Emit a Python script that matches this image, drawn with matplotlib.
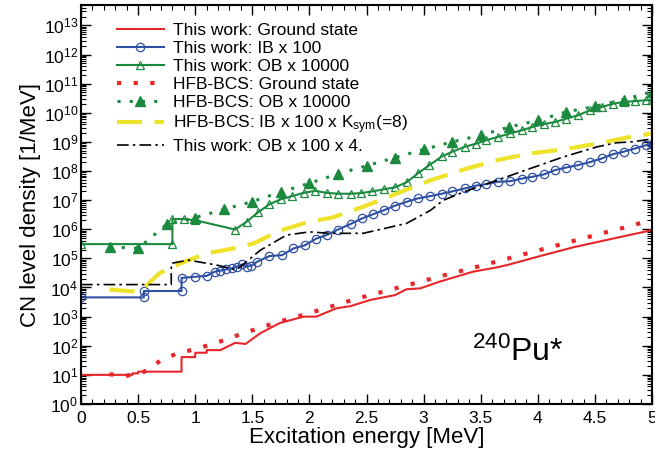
import numpy as np
import matplotlib
matplotlib.use("Agg")
import matplotlib.pyplot as plt
from matplotlib.ticker import LogLocator, MultipleLocator, NullFormatter

plt.rcParams["font.family"] = ["Liberation Sans", "DejaVu Sans"]
plt.rcParams["mathtext.fontset"] = "custom"
plt.rcParams["mathtext.rm"] = "Liberation Sans"
plt.rcParams["mathtext.it"] = "Liberation Sans:italic"
plt.rcParams["mathtext.bf"] = "Liberation Sans:bold"

# ---- data (log10 of level density) ----
# This work: ground state
gs_x = [0.0, 0.45, 0.45, 0.5, 0.5, 0.88, 0.88, 1.0, 1.0, 1.1, 1.1, 1.22, 1.35, 1.44,
        1.57, 1.74, 1.95, 2.06, 2.24, 2.36, 2.53, 2.75, 2.85, 2.97, 3.14, 3.43,
        3.64, 3.73, 4.02, 4.31, 4.6, 5.0]
gs_log = [1.0, 1.0, 1.05, 1.05, 1.11, 1.11, 1.61, 1.61, 1.76, 1.76, 1.85, 1.85, 2.1, 2.06,
          2.43, 2.78, 3.0, 3.0, 3.29, 3.36, 3.57, 3.74, 3.94, 3.97, 4.2, 4.54,
          4.69, 4.77, 5.08, 5.38, 5.63, 5.97]

# This work: IB x 100
ib_x = [0.0, 0.55, 0.55, 0.88, 0.88, 1.0, 1.1, 1.17, 1.22, 1.27, 1.32, 1.37, 1.41,
        1.45, 1.49, 1.54, 1.65, 1.76, 1.86, 1.96, 2.06, 2.15, 2.25, 2.36, 2.46,
        2.56, 2.65, 2.75, 2.85, 2.95, 3.06, 3.16, 3.25, 3.36, 3.46, 3.55, 3.65,
        3.76, 3.86, 3.95, 4.05, 4.15, 4.25, 4.35, 4.46, 4.56, 4.66, 4.75, 4.85,
        4.95, 5.0]
ib_log = [3.66, 3.66, 3.88, 3.88, 4.33, 4.37, 4.4, 4.54, 4.58, 4.62, 4.66, 4.72, 4.79,
          4.72, 4.74, 4.88, 5.08, 5.11, 5.34, 5.45, 5.68, 5.8, 5.99, 6.18, 6.37,
          6.52, 6.65, 6.81, 6.94, 7.06, 7.14, 7.22, 7.3, 7.4, 7.5, 7.55, 7.63,
          7.65, 7.74, 7.8, 7.88, 8.03, 8.12, 8.2, 8.31, 8.43, 8.58, 8.66, 8.77,
          8.89, 8.93]

# This work: OB x 10000
ob_x = [0.0, 0.8, 0.8, 0.9, 1.0, 1.35, 1.45, 1.55, 1.65, 1.75, 1.85, 1.95, 2.05,
        2.15, 2.25, 2.36, 2.45, 2.55, 2.65, 2.75, 2.85, 2.95, 3.05, 3.16, 3.25,
        3.36, 3.46, 3.55, 3.65, 3.76, 3.86, 3.95, 4.05, 4.15, 4.25, 4.35, 4.46,
        4.56, 4.66, 4.75, 4.85, 4.95, 5.0]
ob_log = [5.49, 5.49, 6.35, 6.35, 6.31, 5.99, 6.26, 6.58, 6.86, 7.03, 7.14, 7.25, 7.32,
          7.25, 7.22, 7.22, 7.24, 7.3, 7.37, 7.44, 7.61, 7.92, 8.2, 8.5, 8.66,
          8.83, 8.94, 9.06, 9.17, 9.29, 9.4, 9.51, 9.61, 9.68, 9.8, 9.91, 10.09,
          10.2, 10.31, 10.37, 10.4, 10.43, 10.44]

# HFB-BCS: ground state
hfb_gs_x = [0.25, 0.4, 0.55, 0.7, 0.85, 1.0, 1.2, 1.4, 1.6, 1.8, 2.0, 2.2, 2.4, 2.6,
            2.8, 3.0, 3.2, 3.4, 3.6, 3.8, 4.0, 4.2, 4.4, 4.6, 4.8, 5.0]
hfb_gs_log = [1.02, 0.97, 1.1, 1.5, 1.75, 1.88, 2.12, 2.4, 2.66, 2.9, 3.12, 3.36, 3.6,
              3.81, 4.02, 4.23, 4.44, 4.64, 4.85, 5.06, 5.27, 5.48, 5.69, 5.9, 6.1, 6.33]

# HFB-BCS: OB x 10000
hfb_ob_x = [0.25, 0.5, 0.75, 1.0, 1.25, 1.5, 1.75, 2.0, 2.25, 2.5, 2.75, 3.0, 3.25,
            3.5, 3.75, 4.0, 4.25, 4.5, 4.75, 5.0]
hfb_ob_log = [5.4, 5.34, 6.17, 6.4, 6.68, 6.95, 7.28, 7.58, 7.9, 8.18, 8.46, 8.74, 9.0,
              9.23, 9.51, 9.74, 10.03, 10.22, 10.45, 10.72]

# HFB-BCS: IB x 100 x Ksym(=8)
hfb_ib_x = [0.25, 0.44, 0.52, 0.69, 0.87, 1.1, 1.33, 1.51, 1.74, 2.0, 2.2, 2.47, 2.76,
            3.06, 3.35, 3.64, 3.93, 4.22, 4.52, 4.81, 5.0]
hfb_ib_log = [3.93, 3.87, 3.88, 4.5, 4.83, 5.17, 5.34, 5.51, 5.95, 6.26, 6.4, 6.77, 7.22,
              7.68, 8.05, 8.37, 8.6, 8.74, 8.94, 9.17, 9.29]

# This work: OB x 100 x 4.
ob4_x = [0.0, 0.79, 0.79, 0.94, 1.19, 1.36, 1.57, 1.8, 2.0, 2.18, 2.47, 2.85, 3.06,
         3.17, 3.35, 3.64, 3.93, 4.22, 4.52, 4.69, 4.82, 5.0]
ob4_log = [4.1, 4.1, 4.83, 4.94, 4.77, 4.6, 5.28, 5.8, 5.91, 5.86, 5.86, 6.2, 6.65,
           6.99, 7.28, 7.68, 8.08, 8.48, 8.83, 8.97, 9.0, 9.1]

RED = "#e8262a"
BLUE = "#2f4fa3"
GREEN = "#1b8a3e"
YELLOW = "#eee22a"


def dens(vals):
    return 10.0 ** np.asarray(vals)


fig = plt.figure(figsize=(6.55, 4.57), dpi=100)
ax = fig.add_axes([0.1237, 0.116, 0.8718, 0.873])

ax.plot(gs_x, dens(gs_log), color=RED, lw=1.5, label="This work: Ground state")
ax.plot(ib_x, dens(ib_log), color=BLUE, lw=1.5, marker="o", ms=6, mfc="none",
        mew=0.9, label="This work: IB x 100")
ax.plot(ob_x, dens(ob_log), color=GREEN, lw=1.5, marker="^", ms=5.5, mfc="none",
        mew=0.9, label="This work: OB x 10000")
ax.plot(hfb_gs_x, dens(hfb_gs_log), color=RED, lw=3, linestyle=(0, (1, 3)),
        dash_capstyle="butt", label="HFB-BCS: Ground state")
ax.plot(hfb_ob_x, dens(hfb_ob_log), color=GREEN, lw=2.2, linestyle=(0, (1, 3)),
        marker="^", ms=6.5, label="HFB-BCS: OB x 10000")
ax.plot(hfb_ib_x, dens(hfb_ib_log), color=YELLOW, lw=3, linestyle=(0, (6, 3)),
        label=r"HFB-BCS: IB x 100 x K$_{\mathrm{sym}}$(=8)")
ax.plot(ob4_x, dens(ob4_log), color="black", lw=1.2, linestyle=(0, (7, 2.5, 1.5, 2.5)),
        label="This work: OB x 100 x 4.")

ax.set_yscale("log")
ax.set_xlim(0, 5)
ax.set_ylim(1, 5e13)
ax.xaxis.set_minor_locator(MultipleLocator(0.1))
ax.set_xticks(np.arange(0, 5.01, 0.5))
ax.set_xticklabels(["0", "0.5", "1", "1.5", "2", "2.5", "3", "3.5", "4", "4.5", "5"])
ax.yaxis.set_major_locator(LogLocator(base=10, numticks=30))
ax.yaxis.set_minor_locator(LogLocator(base=10, subs=np.arange(2, 10), numticks=30))
ax.yaxis.set_minor_formatter(NullFormatter())

ax.tick_params(which="both", direction="in", top=True, right=True, labelsize=12.5)
ax.tick_params(which="major", length=7, width=1)
ax.tick_params(which="minor", length=3.5, width=0.8)
ax.tick_params(axis="x", pad=5)
ax.tick_params(axis="y", pad=2)
for sp in ax.spines.values():
    sp.set_linewidth(1.5)

ax.set_xlabel("Excitation energy [MeV]", fontsize=16, labelpad=1)
ax.set_ylabel("CN level density [1/MeV]", fontsize=16, labelpad=2)

ax.text(3.42, 3e1, r"$^{240}$Pu*", fontsize=23)

ax.legend(loc="upper left", bbox_to_anchor=(0.044, 0.982), frameon=False, fontsize=12.5,
          handlelength=2.75, handletextpad=0.5, labelspacing=0.17, borderaxespad=0.3,
          borderpad=0.3)

fig.savefig("out.png", dpi=100)
plt.close(fig)
